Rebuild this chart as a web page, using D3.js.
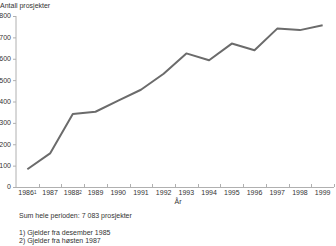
<!DOCTYPE html>
<html>
<head>
<meta charset="utf-8">
<script src="https://cdn.jsdelivr.net/npm/d3@7"></script>
<style>
body{margin:0;background:#fff;}
text{font-family:"Liberation Sans",Arial,sans-serif;fill:#333;}
</style>
</head>
<body>
<svg id="chart" width="336" height="246"></svg>
<script>
// data
var years = ["1986","1987","1988","1989","1990","1991","1992","1993","1994","1995","1996","1997","1998","1999"];
var notes = {"1986":"1","1988":"2"};
var projects = [83,157,341,352,404,455,530,625,593,671,640,741,734,757];
var yTicks = [0,100,200,300,400,500,600,700,800];
var footnotes = ["1) Gjelder fra desember 1985","2) Gjelder fra høsten 1987"];

var svg = d3.select("#chart");
var margin = {top:16, right:2, bottom:59, left:16},
    width = 336 - margin.left - margin.right,
    height = 246 - margin.top - margin.bottom;
var axisCol = "#b0b0b0";

var x = d3.scaleBand().domain(years).range([0,width]);
var y = d3.scaleLinear().domain([0,800]).range([height,0]);

var g = svg.append("g").attr("transform","translate("+margin.left+","+margin.top+")");

//y axis
var ya = g.append("g");
ya.append("line").attr("x1",0).attr("x2",0).attr("y1",y(0)).attr("y2",y(800)).attr("stroke",axisCol);
ya.selectAll("line.t").data(yTicks).enter().append("line").attr("class","t")
  .attr("x1",-3).attr("x2",0).attr("y1",function(d){return y(d)+0.5}).attr("y2",function(d){return y(d)+0.5})
  .attr("stroke",axisCol);
ya.selectAll("text").data(yTicks).enter().append("text")
  .attr("x",-5).attr("y",function(d){return y(d)}).attr("dy","0.35em")
  .attr("text-anchor","end").style("font-size","7px").text(function(d){return d});

//x axis
var xa = g.append("g");
xa.append("line").attr("x1",0).attr("x2",width).attr("y1",height+0.5).attr("y2",height+0.5).attr("stroke",axisCol);
xa.selectAll("line.t").data(years.slice(1).concat(["end"])).enter().append("line").attr("class","t")
  .attr("x1",function(d,i){return Math.round(x.bandwidth()*(i+1))+0.5})
  .attr("x2",function(d,i){return Math.round(x.bandwidth()*(i+1))+0.5})
  .attr("y1",height-3).attr("y2",height).attr("stroke",axisCol);
var lbl = xa.selectAll("text").data(years).enter().append("text")
  .attr("x",function(d){return x(d)+x.bandwidth()/2})
  .attr("y",height+6).attr("dy","0.35em")
  .attr("text-anchor","middle").style("font-size","7px");
lbl.append("tspan").text(function(d){return d});
lbl.filter(function(d){return notes[d]}).append("tspan")
  .attr("dy","-0.35em").style("font-size","4.5px").text(function(d){return notes[d]});

//line
var line = d3.line().x(function(d,i){return x(years[i])+x.bandwidth()/2}).y(function(d){return y(d)});
g.append("path").datum(projects).attr("d",line).attr("fill","none")
  .attr("stroke","#6b6b6b").attr("stroke-width",2).attr("stroke-linejoin","round");

//titles and notes
svg.append("text").attr("x",0).attr("y",8).style("font-size","7px").text("Antall prosjekter");
svg.append("text").attr("x",178).attr("y",204).attr("text-anchor","middle").style("font-size","7px").text("År");
svg.append("text").attr("x",19).attr("y",218).style("font-size","7px")
  .text("Sum hele perioden: "+d3.format(",")(d3.sum(projects)).replace(/,/g," ")+" prosjekter");
svg.selectAll("text.fn").data(footnotes).enter().append("text").attr("class","fn")
  .attr("x",19).attr("y",function(d,i){return 235+i*8}).style("font-size","7px").text(function(d){return d});
</script>
</body>
</html>
